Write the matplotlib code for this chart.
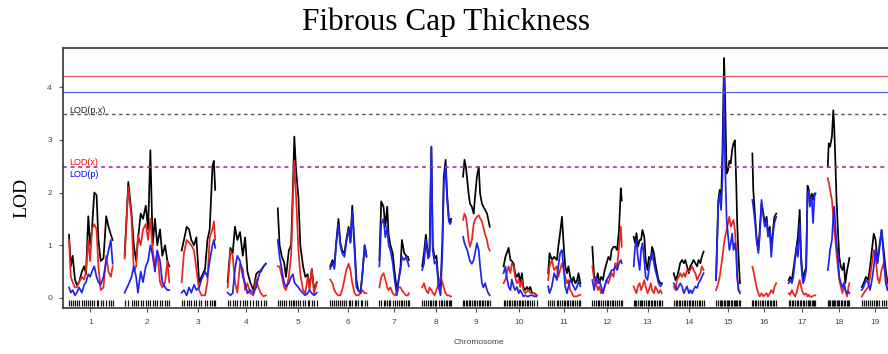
import numpy as np
import matplotlib
matplotlib.use("Agg")
import matplotlib.pyplot as plt

# genome scan, LOD curves per chromosome (positions in cM)
chr_names = [str(i) for i in range(1, 20)]
chr_len = [97, 99, 74, 86, 87, 82, 66, 67, 59, 77, 70, 65, 62, 67, 54, 54, 60, 49, 59]
gap = 25

marker_pos = [
    [2, 6, 10, 15, 19, 24, 30, 35, 39, 44, 48, 52, 57, 62, 66, 71, 77, 83, 88, 93, 97],
    [1, 9, 16, 21, 26, 30, 36, 41, 47, 52, 57, 62, 67, 72, 78, 83, 89, 94, 98],
    [1, 6, 12, 17, 22, 28, 33, 39, 44, 52, 57, 62, 68, 71, 74],
    [2, 8, 13, 18, 23, 29, 35, 40, 45, 51, 58, 64, 69, 74, 80, 85],
    [0, 4, 9, 14, 18, 24, 29, 33, 36, 40, 45, 49, 55, 60, 65, 69, 74, 79, 85],
    [2, 7, 11, 15, 20, 24, 28, 33, 37, 42, 46, 50, 55, 59, 63, 68, 72, 77, 81],
    [2, 6, 11, 15, 19, 22, 26, 31, 35, 40, 44, 48, 51, 56, 60, 64, 66],
    [4, 8, 12, 17, 20, 24, 27, 31, 35, 40, 44, 48, 51, 55, 58, 62, 65, 67],
    [1, 4, 7, 10, 13, 16, 20, 24, 27, 31, 35, 38, 42, 45, 49, 53, 56, 59],
    [5, 9, 12, 16, 20, 23, 27, 30, 34, 38, 41, 45, 48, 52, 56, 59, 63, 67, 72, 77],
    [0, 3, 8, 13, 19, 22, 26, 30, 34, 37, 41, 44, 48, 52, 55, 59, 63, 66, 70],
    [1, 5, 9, 13, 16, 20, 24, 28, 32, 36, 40, 43, 47, 51, 55, 59, 63, 65],
    [1, 4, 7, 10, 14, 17, 20, 24, 27, 31, 34, 38, 41, 45, 48, 52, 55, 59, 62],
    [1, 5, 8, 12, 15, 19, 23, 26, 30, 34, 37, 41, 44, 48, 52, 55, 59, 62, 66],
    [1, 6, 9, 12, 15, 18.5, 20.5, 24, 27, 30, 33, 36, 39, 42, 45, 47, 50, 53],
    [1, 3, 7, 10, 14, 17, 21, 25, 28, 32, 35, 39, 42, 46, 49, 53],
    [1, 4, 8, 11, 15, 18, 21, 25, 28, 32, 35, 39, 42, 45, 47, 51, 54, 57, 59],
    [1, 3, 6, 10, 13, 15, 17.5, 20, 23, 26, 29.5, 33, 36, 39, 43, 46, 48],
    [1, 5, 10, 15, 19, 23, 27, 31, 35, 39, 44, 48.5, 53, 57],
]

# black curve: LOD(p,x)
lod_px = [
    [1.2, 0.6, 0.8, 0.35, 0.25, 0.3, 0.5, 0.6, 0.45, 1.55, 1.0, 1.3, 2.0, 1.95, 1.1, 0.7, 0.75, 1.55, 1.35, 1.2, 1.1],
    [0.8, 2.2, 1.6, 1.0, 0.7, 1.1, 1.6, 1.5, 1.75, 1.3, 2.8, 1.0, 1.5, 1.0, 1.3, 0.8, 1.0, 0.7, 0.6],
    [0.9, 1.1, 1.35, 1.3, 1.1, 1.0, 1.15, 0.3, 0.4, 0.55, 1.1, 1.3, 2.5, 2.6, 2.05],
    [0.3, 0.95, 0.85, 1.35, 1.1, 1.25, 0.8, 1.15, 0.5, 0.3, 0.15, 0.45, 0.5, 0.5, 0.6, 0.65],
    [1.7, 1.0, 0.78, 0.67, 0.4, 0.9, 1.0, 2.1, 3.06, 2.4, 1.9, 1.0, 0.6, 0.4, 0.45, 0.2, 0.55, 0.15, 0.3],
    [0.6, 0.72, 0.6, 1.05, 1.5, 1.05, 0.9, 0.85, 1.1, 1.35, 1.05, 1.75, 1.0, 0.35, 0.15, 0.12, 0.45, 1.0, 0.8],
    [0.72, 1.83, 1.73, 1.35, 1.73, 1.2, 1.0, 0.85, 0.5, 0.15, 0.35, 0.6, 1.1, 0.85, 0.8, 0.78, 0.72],
    [0.6, 0.85, 1.2, 0.8, 0.9, 2.87, 1.0, 0.75, 0.8, 0.25, 0.2, 1.1, 2.3, 2.62, 2.0, 1.5, 1.45, 1.5],
    [2.3, 2.62, 2.49, 2.24, 1.98, 1.79, 1.73, 1.6, 1.92, 2.3, 2.49, 1.98, 1.79, 1.73, 1.67, 1.6, 1.48, 1.35],
    [0.6, 0.78, 0.85, 0.95, 0.72, 0.7, 0.65, 0.47, 0.4, 0.47, 0.28, 0.47, 0.21, 0.15, 0.21, 0.15, 0.21, 0.09, 0.09, 0.05],
    [0.47, 0.85, 0.72, 0.78, 0.72, 0.97, 1.23, 1.54, 0.97, 0.6, 0.47, 0.6, 0.4, 0.3, 0.4, 0.28, 0.34, 0.47, 0.28],
    [0.97, 0.4, 0.34, 0.47, 0.28, 0.4, 0.34, 0.53, 0.66, 0.78, 0.72, 0.91, 0.97, 0.97, 0.91, 1.29, 2.08, 1.85],
    [1.16, 1.04, 1.23, 0.97, 1.1, 1.1, 1.29, 1.16, 0.72, 0.53, 0.78, 0.72, 0.97, 0.85, 0.66, 0.47, 0.34, 0.28, 0.28],
    [0.47, 0.34, 0.4, 0.53, 0.66, 0.72, 0.66, 0.72, 0.6, 0.47, 0.6, 0.66, 0.72, 0.66, 0.6, 0.72, 0.66, 0.78, 0.88],
    [0.34, 1.86, 2.05, 1.79, 2.81, 4.55, 3.88, 2.36, 2.42, 2.6, 2.55, 2.81, 2.93, 2.99, 2.17, 1.42, 0.78, 0.28],
    [2.74, 2.05, 1.54, 1.16, 0.91, 1.29, 1.79, 1.6, 1.42, 1.54, 1.22, 1.35, 0.91, 1.29, 1.54, 1.6],
    [0.34, 0.4, 0.34, 0.53, 0.78, 0.97, 1.16, 1.67, 0.78, 0.34, 0.47, 0.59, 2.13, 2.05, 1.79, 1.98, 1.86, 1.98, 1.98],
    [2.48, 2.93, 2.87, 3.06, 3.56, 3.24, 2.6, 1.86, 1.29, 0.78, 0.59, 0.53, 0.66, 0.28, 0.53, 0.66, 0.76],
    [0.21, 0.28, 0.4, 0.34, 0.59, 0.91, 1.22, 1.1, 0.66, 0.97, 1.29, 0.91, 0.53, 0.28],
]

# red curve: LOD(x)
lod_x = [
    [1.1, 0.4, 0.3, 0.2, 0.2, 0.3, 0.4, 0.35, 0.5, 1.1, 0.7, 1.3, 1.4, 1.3, 0.6, 0.15, 0.2, 0.8, 0.5, 0.4, 0.6],
    [0.75, 2.1, 1.5, 0.5, 0.6, 1.2, 1.0, 1.3, 1.4, 1.1, 1.5, 0.9, 0.6, 0.9, 0.3, 0.2, 0.3, 0.7, 0.3],
    [0.3, 0.85, 1.1, 1.05, 1.0, 0.9, 0.55, 0.15, 0.05, 0.05, 0.3, 1.15, 1.3, 1.45, 1.1],
    [0.2, 0.9, 0.8, 0.3, 0.1, 0.65, 0.55, 0.15, 0.28, 0.09, 0.05, 0.35, 0.2, 0.09, 0.03, 0.05],
    [0.6, 0.6, 0.4, 0.2, 0.15, 0.4, 0.8, 1.9, 2.6, 1.9, 0.9, 0.45, 0.15, 0.09, 0.4, 0.15, 0.55, 0.09, 0.3],
    [0.35, 0.28, 0.15, 0.09, 0.05, 0.05, 0.15, 0.35, 0.53, 0.65, 0.53, 0.28, 0.09, 0.05, 0.05, 0.09, 0.15, 0.09, 0.09],
    [0.2, 0.4, 0.47, 0.35, 0.2, 0.15, 0.2, 0.09, 0.05, 0.09, 0.2, 0.2, 0.15, 0.09, 0.05, 0.05, 0.09],
    [0.2, 0.28, 0.15, 0.09, 0.2, 0.15, 0.1, 0.05, 0.15, 0.28, 0.4, 0.3, 0.2, 0.09, 0.05, 0.05, 0.03, 0.03],
    [1.48, 1.6, 1.54, 1.35, 1.1, 0.97, 1.1, 1.4, 1.48, 1.54, 1.57, 1.51, 1.45, 1.35, 1.2, 1.1, 0.95, 0.9],
    [0.28, 0.35, 0.47, 0.6, 0.47, 0.65, 0.6, 0.4, 0.28, 0.35, 0.21, 0.35, 0.15, 0.09, 0.12, 0.15, 0.1, 0.09, 0.09, 0.05],
    [0.34, 0.6, 0.72, 0.53, 0.6, 0.4, 0.53, 0.66, 0.53, 0.4, 0.28, 0.34, 0.15, 0.09, 0.03, 0.03, 0.03, 0.05, 0.06],
    [0.6, 0.34, 0.28, 0.15, 0.22, 0.09, 0.15, 0.22, 0.34, 0.28, 0.4, 0.47, 0.4, 0.66, 0.6, 0.97, 1.35, 0.97],
    [0.22, 0.15, 0.09, 0.22, 0.28, 0.15, 0.22, 0.34, 0.22, 0.09, 0.15, 0.28, 0.15, 0.09, 0.22, 0.15, 0.09, 0.15, 0.09],
    [0.22, 0.15, 0.34, 0.4, 0.47, 0.4, 0.47, 0.4, 0.53, 0.5, 0.53, 0.6, 0.53, 0.47, 0.34, 0.4, 0.47, 0.6, 0.53],
    [0.15, 0.28, 0.4, 0.59, 0.78, 1.04, 1.15, 1.29, 1.42, 1.54, 1.35, 1.42, 1.48, 1.29, 0.91, 0.4, 0.15, 0.12],
    [0.59, 0.53, 0.34, 0.21, 0.09, 0.03, 0.09, 0.03, 0.06, 0.09, 0.03, 0.09, 0.15, 0.09, 0.21, 0.28],
    [0.09, 0.06, 0.15, 0.09, 0.03, 0.09, 0.21, 0.34, 0.21, 0.09, 0.06, 0.09, 0.03, 0.06, 0.03, 0.02, 0.04, 0.05, 0.05],
    [2.27, 2.2, 2.05, 1.86, 1.54, 1.29, 1.1, 0.85, 0.59, 0.34, 0.21, 0.09, 0.28, 0.15, 0.03, 0.21, 0.28],
    [0.03, 0.09, 0.15, 0.21, 0.4, 0.66, 0.91, 0.78, 0.4, 0.28, 0.53, 0.66, 0.4, 0.15],
]

# blue curve: LOD(p)
lod_p = [
    [0.2, 0.1, 0.15, 0.05, 0.1, 0.2, 0.1, 0.25, 0.3, 0.45, 0.4, 0.5, 0.6, 0.4, 0.3, 0.25, 0.4, 0.7, 0.9, 1.1, 0.65],
    [0.1, 0.25, 0.4, 0.6, 0.4, 0.1, 0.5, 0.3, 0.6, 0.7, 1.0, 0.8, 0.5, 0.9, 0.7, 0.3, 0.2, 0.15, 0.15],
    [0.1, 0.15, 0.05, 0.2, 0.1, 0.25, 0.15, 0.2, 0.35, 0.5, 0.4, 0.7, 1.0, 1.1, 0.95],
    [0.1, 0.05, 0.09, 0.55, 0.8, 0.7, 0.4, 0.28, 0.09, 0.15, 0.09, 0.2, 0.4, 0.53, 0.6, 0.65],
    [1.1, 0.78, 0.53, 0.28, 0.21, 0.28, 0.4, 0.45, 0.3, 0.25, 0.2, 0.15, 0.09, 0.05, 0.09, 0.15, 0.09, 0.05, 0.1],
    [0.55, 0.67, 0.55, 1.0, 1.4, 1.0, 0.85, 0.78, 1.05, 1.3, 1.05, 1.65, 0.9, 0.2, 0.15, 0.09, 0.45, 1.0, 0.78],
    [0.6, 1.4, 1.5, 1.15, 1.35, 1.0, 0.9, 0.67, 0.35, 0.05, 0.35, 0.53, 0.78, 0.72, 0.78, 0.67, 0.6],
    [0.53, 0.65, 1.1, 0.75, 0.8, 2.87, 0.9, 0.65, 0.7, 0.2, 0.05, 0.9, 2.15, 2.5, 1.9, 1.45, 1.4, 1.45],
    [1.16, 1.04, 0.97, 0.91, 0.8, 0.7, 0.65, 0.72, 0.85, 1.04, 0.91, 0.6, 0.28, 0.2, 0.28, 0.15, 0.09, 0.05],
    [0.47, 0.6, 0.4, 0.21, 0.15, 0.35, 0.21, 0.15, 0.21, 0.09, 0.15, 0.09, 0.03, 0.05, 0.03, 0.03, 0.05, 0.05, 0.03, 0.03],
    [0.22, 0.09, 0.22, 0.47, 0.34, 0.6, 0.85, 0.91, 0.53, 0.22, 0.09, 0.22, 0.34, 0.28, 0.22, 0.15, 0.22, 0.34, 0.22],
    [0.34, 0.15, 0.4, 0.28, 0.34, 0.22, 0.09, 0.22, 0.34, 0.4, 0.47, 0.53, 0.53, 0.6, 0.53, 0.66, 0.72, 0.66],
    [0.6, 0.97, 1.1, 0.78, 0.53, 0.91, 1.04, 0.72, 0.4, 0.34, 0.53, 0.78, 0.85, 0.66, 0.53, 0.4, 0.28, 0.22, 0.25],
    [0.28, 0.22, 0.15, 0.22, 0.28, 0.22, 0.09, 0.15, 0.22, 0.09, 0.15, 0.09, 0.15, 0.22, 0.19, 0.28, 0.34, 0.4, 0.47],
    [0.34, 1.79, 1.98, 1.67, 2.3, 4.19, 2.6, 1.5, 1.2, 0.91, 1.04, 1.22, 0.91, 1.04, 0.85, 0.4, 0.15, 0.09],
    [1.86, 1.73, 1.42, 1.1, 0.85, 1.16, 1.86, 1.54, 1.35, 1.48, 1.16, 1.29, 0.78, 1.22, 1.42, 1.54],
    [0.28, 0.34, 0.28, 0.4, 0.72, 0.97, 0.78, 1.42, 0.66, 0.28, 0.34, 0.53, 1.98, 2.05, 1.73, 1.92, 1.42, 1.92, 1.98],
    [0.53, 0.66, 0.91, 1.1, 1.54, 1.73, 1.35, 1.04, 0.78, 0.4, 0.28, 0.21, 0.28, 0.15, 0.09, 0.12, 0.09],
    [0.15, 0.21, 0.34, 0.28, 0.15, 0.34, 0.59, 0.91, 0.66, 0.91, 1.29, 0.78, 0.28, 0.15],
]

# significance thresholds
thr_x_genome = 4.21
thr_p_genome = 3.90
thr_px = 3.49
thr_x = 2.48
thr_p = 2.48

RED = "#e8251f"
BLUE = "#1f24ee"

fig = plt.figure(figsize=(8.88, 3.54), dpi=100)
ax = fig.add_axes([63 / 888, 46 / 354, 831 / 888, 260 / 354])

offsets = np.cumsum([0] + [L + gap for L in chr_len[:-1]])
mids = offsets + np.array(chr_len) / 2.0

for i in range(len(chr_names)):
    x = offsets[i] + np.array(marker_pos[i])
    ax.plot(x, lod_px[i], color="black", lw=1.25)
    ax.plot(x, lod_x[i], color=RED, lw=1.25)
    ax.plot(x, lod_p[i], color=BLUE, lw=1.25)
    # marker rug
    ax.vlines(x, -0.16, -0.03, color="#111111", lw=0.9)

ax.axhline(thr_x_genome, color="#e35a5a", lw=0.9)
ax.axhline(thr_p_genome, color="#5a5af0", lw=0.9)
ax.axhline(thr_px, color="#555555", lw=1.0, ls=(0, (2.5, 2.5)))
# the two 2.48 thresholds sit on top of each other -> purple dashes
ax.axhline(thr_x, color="#e0306a", lw=1.1, ls=(0, (2.5, 2.5)))
ax.axhline(thr_p, color="#4030e0", lw=1.1, ls=(0, (2.5, 2.5)), alpha=0.35)

ax.text(2, thr_px + 0.06, "LOD(p,x)", fontsize=6.5, color="#222222", va="center", family="Liberation Sans")
ax.text(2, thr_x + 0.09, "LOD(x)", fontsize=6.5, color="red", va="center", family="Liberation Sans")
ax.text(2, thr_p - 0.13, "LOD(p)", fontsize=6.5, color="blue", va="center", family="Liberation Sans")

ax.set_xlim(-11, offsets[-1] + chr_len[-1] + 12)
ax.set_ylim(-0.19, 4.74)
ax.set_xticks(mids)
ax.set_xticklabels(chr_names)
ax.set_yticks([0, 1, 2, 3, 4])
ax.tick_params(axis="both", labelsize=6, length=3, width=0.8, color="#555555",
               labelcolor="#444444", pad=5)
for lbl in ax.get_xticklabels() + ax.get_yticklabels():
    lbl.set_family("Liberation Sans")
for s in ax.spines.values():
    s.set_color("#333333")
    s.set_linewidth(1.2)

fig.text(446 / 888, 1 - 22 / 354, "Fibrous Cap Thickness", ha="center", va="center",
         family="Liberation Serif", fontsize=22.5)
fig.text(22 / 888, 1 - 198 / 354, "LOD", rotation=90, ha="center", va="center",
         family="Liberation Serif", fontsize=14)
fig.text(479 / 888, 1 - 342 / 354, "Chromosome", ha="center", va="center",
         family="Liberation Sans", fontsize=6, color="#444444")

fig.savefig("out.png", dpi=100)
